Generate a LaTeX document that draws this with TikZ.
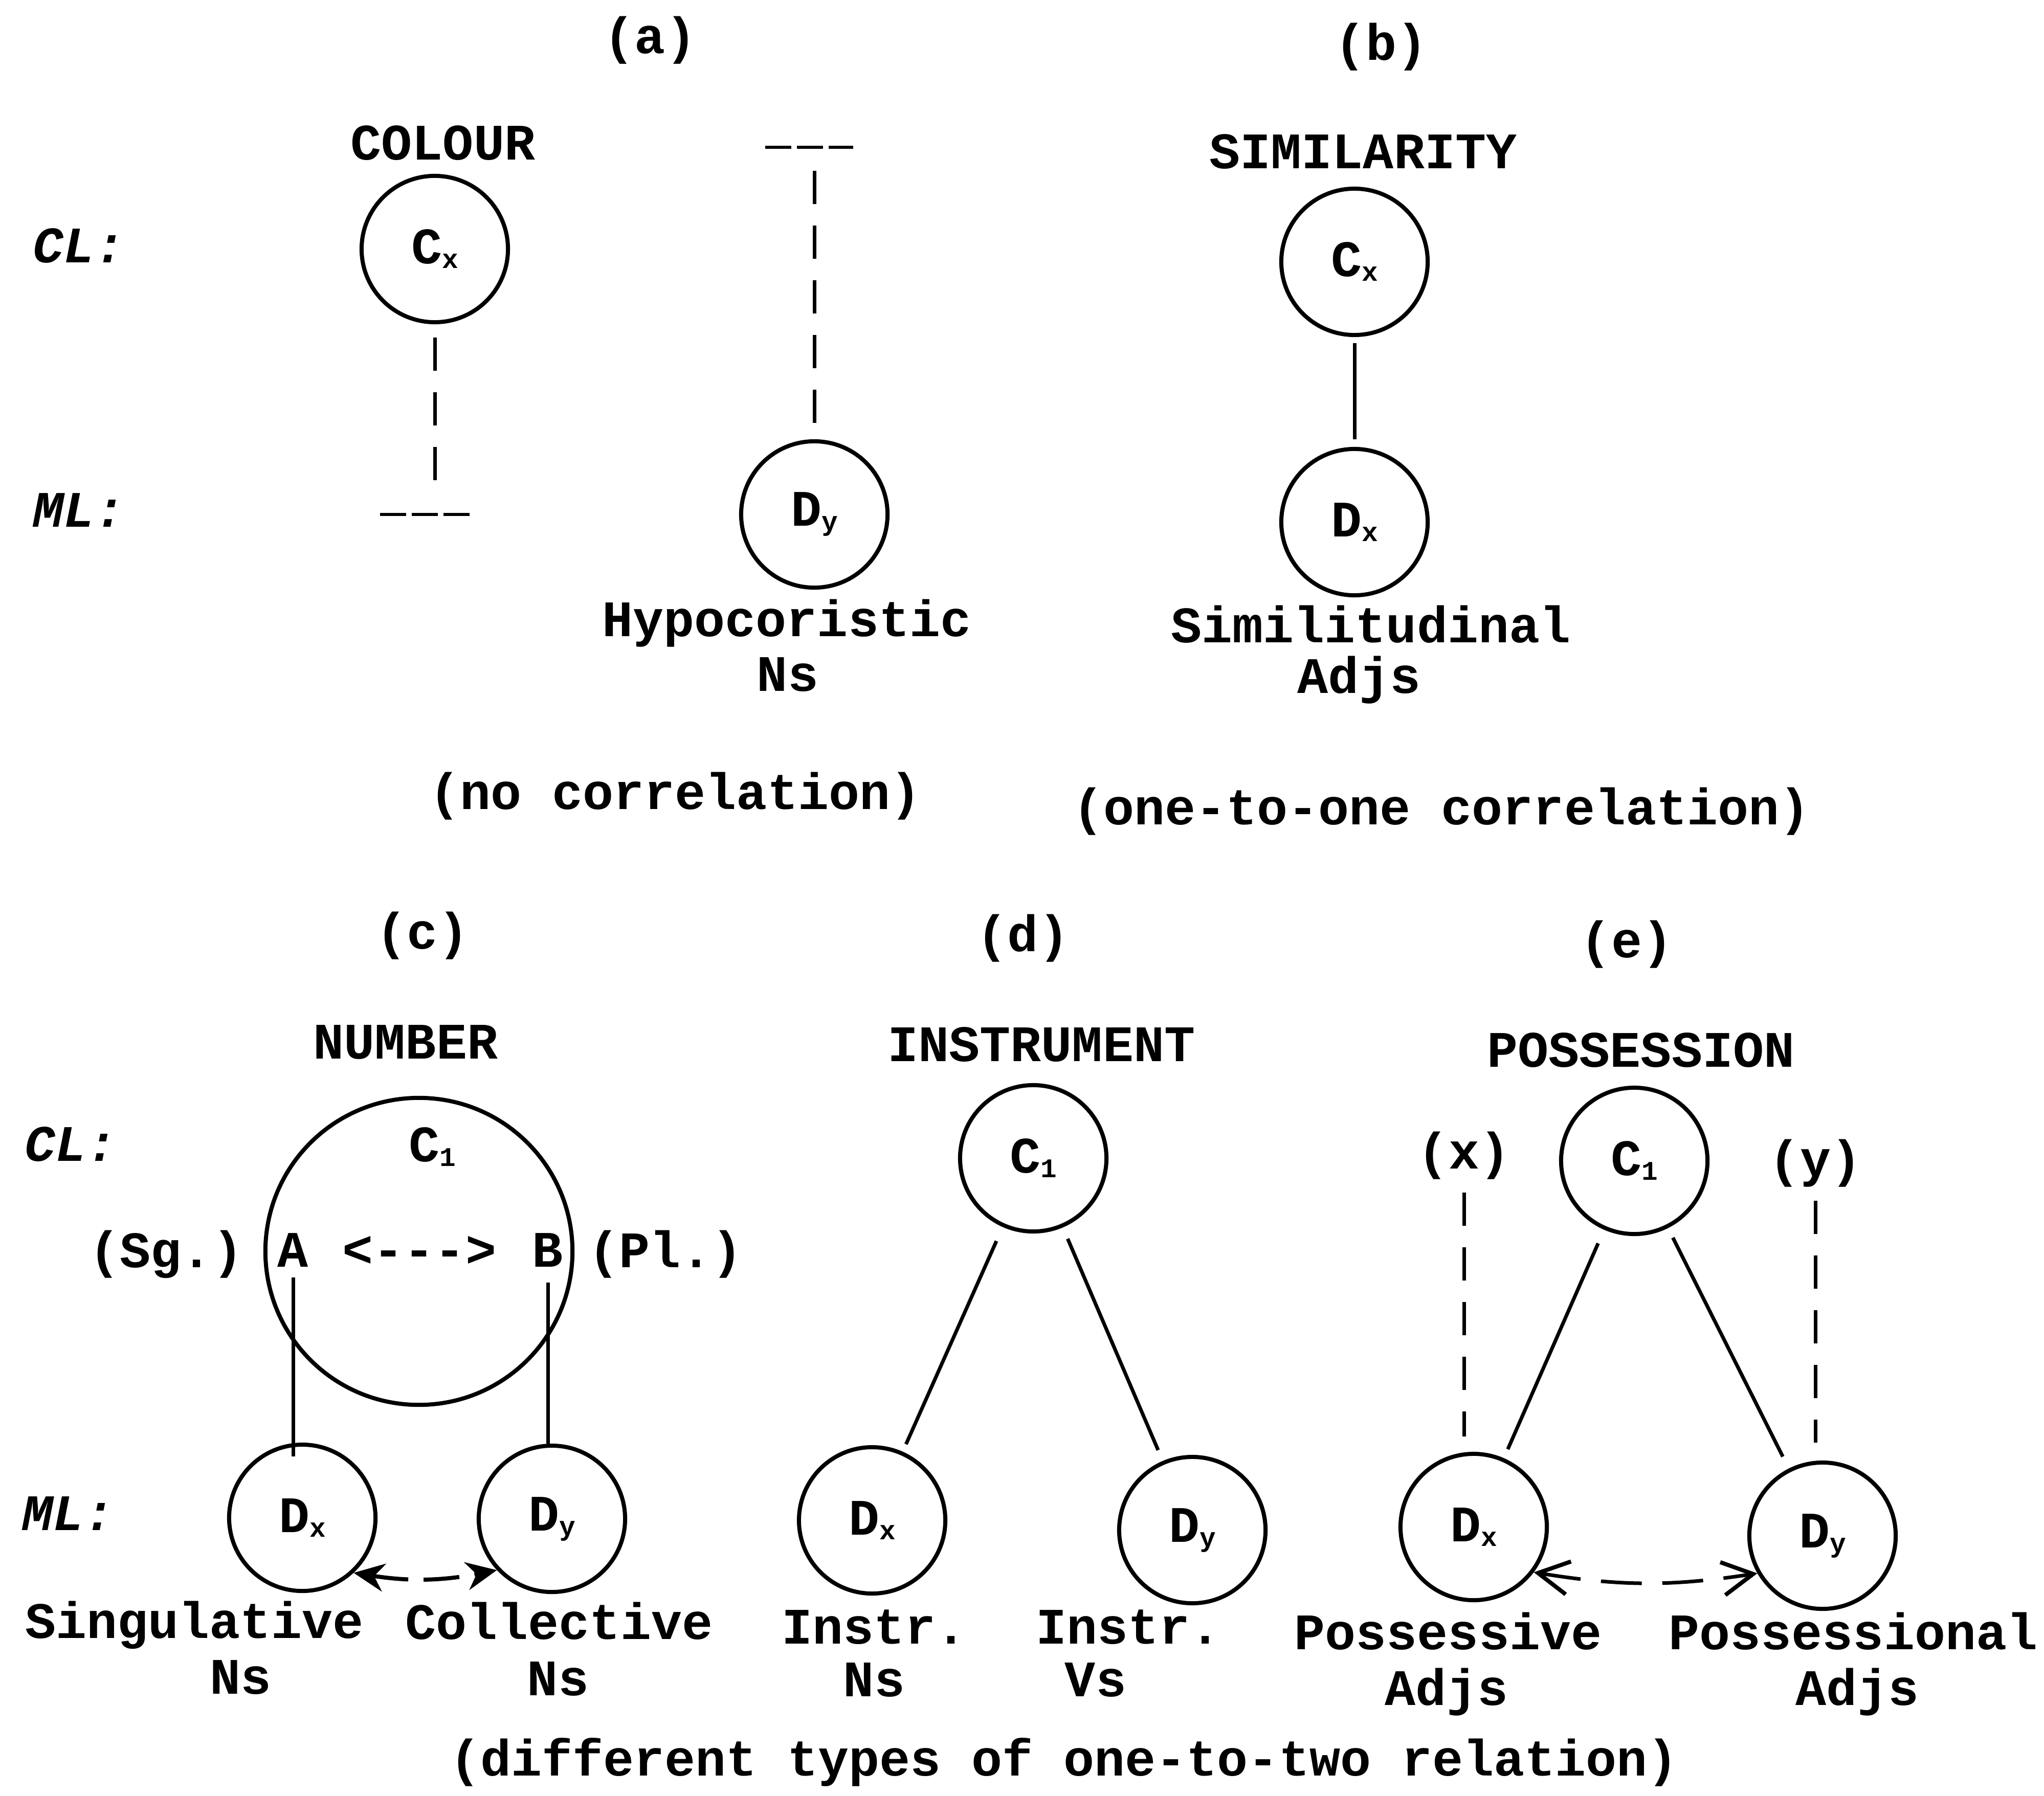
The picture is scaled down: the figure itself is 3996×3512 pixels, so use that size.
\documentclass[tikz,border=0pt]{standalone}
\usepackage{fontspec}
\setmainfont{Liberation Mono}
\usetikzlibrary{arrows.meta,calc}
\newcommand\sbs[1]{\raisebox{-0.09cm}{\fontsize{15pt}{15pt}\selectfont #1}}
\begin{document}
\begin{tikzpicture}[x=0.01cm,y=-0.01cm,
  every node/.style={font=\fontsize{28.45pt}{34pt}\selectfont\bfseries, inner sep=0pt},
  txt/.style={anchor=base},
  lvl/.style={anchor=base west, font=\fontsize{28.45pt}{34pt}\selectfont\bfseries\itshape},
  circ/.style={draw, circle, line width=0.08cm, minimum size=2.86cm},
  bigcirc/.style={draw, circle, line width=0.08cm, minimum size=6.0cm},
  link/.style={line width=0.07cm},
  dlink/.style={line width=0.07cm, dash pattern=on 0.65cm off 0.42cm},
  bar/.style={line width=0.06cm, dash pattern=on 0.51cm off 0.11cm},
  darrowc/.style={line width=0.08cm, dash pattern=on 0.7cm off 0.3cm,
    {Stealth[length=0.6cm,width=0.55cm]}-{Stealth[length=0.6cm,width=0.55cm]}},
  darrowe/.style={line width=0.07cm, dash pattern=on 0.8cm off 0.4cm,
    {Straight Barb[length=0.6cm,width=0.65cm,line width=0.08cm]}-{Straight Barb[length=0.6cm,width=0.65cm,line width=0.08cm]}},
]
\useasboundingbox (0,0) rectangle (3996,3512);

% ---------- (a) ----------
\node[txt] (lba) at (1271,105) {(a)};
\node[txt] (ttlcol) at (866,312) {COLOUR};
\node[lvl] (cltop) at (64,513) {CL:};
\node[lvl] (mltop) at (64,1030) {ML:};
\node[circ] (cxa) at (850,487) {C\sbs{x}};
\coordinate (barAl) at (743,1006);
\coordinate (barAr) at (918,1006);
\coordinate (barAm) at (850,1006);
\draw[bar] (barAl) -- (barAr);
\draw[dlink, shorten <=0.26cm, shorten >=0.25cm] (cxa.south) -- (barAm);

\coordinate (barBl) at (1496,288);
\coordinate (barBr) at (1668,288);
\coordinate (barBm) at (1592,288);
\draw[bar] (barBl) -- (barBr);
\node[circ] (dya) at (1592,1006) {D\sbs{y}};
\draw[dlink, shorten <=0.46cm, shorten >=0.21cm] (barBm) -- (dya.north);
\node[txt] (hypo) at (1538,1244) {Hypocoristic};
\node[txt] (hypons) at (1540,1351) {Ns};

% ---------- (b) ----------
\node[txt] (lbb) at (2700,118) {(b)};
\node[txt] (ttlsim) at (2665,330) {SIMILARITY};
\node[circ] (cxb) at (2648,512) {C\sbs{x}};
\node[circ] (dxb) at (2648,1021) {D\sbs{x}};
\draw[link, shorten <=0.12cm, shorten >=0.15cm] (cxb) -- (dxb);
\node[txt] (simil) at (2680,1256) {Similitudinal};
\node[txt] (simadj) at (2657,1355) {Adjs};

\node[txt] (capa) at (1320,1582) {(no correlation)};
\node[txt] (capb) at (2818,1612) {(one-to-one correlation)};

% ---------- (c) ----------
\node[txt] (lbc) at (826,1855) {(c)};
\node[txt] (ttlnum) at (793,2070) {NUMBER};
\node[lvl] (clbot) at (48,2270) {CL:};
\node[lvl] (mlbot) at (43,2992) {ML:};
\node[bigcirc] (bigc) at (819,2447) {};
\node[txt] (c1c) at (845,2271) {C\sbs{1}};
\node[txt] (sg) at (325,2478) {(Sg.)};
\node[txt] (nA) at (573,2477) {A};
\node[txt] (dbl) at (820,2477) {<-{}-{}->};
\node[txt] (nB) at (1071,2477) {B};
\node[txt] (pl) at (1301,2478) {(Pl.)};
\node[circ] (dxc) at (591,2968) {D\sbs{x}};
\node[circ] (dyc) at (1079,2970) {D\sbs{y}};
\draw[link, shorten <=0.2cm, shorten >=-0.27cm] (nA.south) -- (nA.south |- dxc.north);
\draw[link, shorten <=0.3cm] (nB.south) -- (nB.south |- dyc.north);
\draw[darrowc] (dxc.-47) to[bend right=10] (dyc.223);
\node[txt] (sing) at (380,3203) {Singulative};
\node[txt] (singns) at (471,3312) {Ns};
\node[txt] (coll) at (1093,3205) {Collective};
\node[txt] (collns) at (1091,3315) {Ns};

% ---------- (d) ----------
\node[txt] (lbd) at (2000,1860) {(d)};
\node[txt] (ttlins) at (2036,2075) {INSTRUMENT};
\node[circ] (c1d) at (2020,2265) {C\sbs{1}};
\node[circ] (dxd) at (1705,2973) {D\sbs{x}};
\node[circ] (dyd) at (2331,2992) {D\sbs{y}};
\draw[link, shorten <=0.3cm, shorten >=0.16cm] (c1d) -- (dxd);
\draw[link, shorten <=0.24cm, shorten >=0.23cm] (c1d) -- (dyd);
\node[txt] (insn) at (1709,3214) {Instr.};
\node[txt] (insnns) at (1709,3317) {Ns};
\node[txt] (insv) at (2206,3214) {Instr.};
\node[txt] (insvvs) at (2142,3317) {Vs};

% ---------- (e) ----------
\node[txt] (lbe) at (3180,1872) {(e)};
\node[txt] (ttlpos) at (3208,2086) {POSSESSION};
\node[circ] (c1e) at (3195,2270) {C\sbs{1}};
\node[circ] (dxe) at (2881,2986) {D\sbs{x}};
\node[circ] (dye) at (3563,3003) {D\sbs{y}};
\node[txt] (xl) at (2862,2285) {(x)};
\node[txt] (yl) at (3549,2300) {(y)};
\draw[link, shorten <=0.29cm, shorten >=0.19cm] (c1e) -- (dxe);
\draw[link, shorten <=0.21cm, shorten >=0.26cm] (c1e) -- (dye);
\draw[dlink, shorten <=0.25cm, shorten >=0.3cm] (xl.south) -- (xl.south |- dxe.north);
\draw[dlink, shorten <=0.26cm, shorten >=0.35cm] (yl.south) -- (yl.south |- dye.north);
\draw[darrowe] (dxe.-37) to[bend right=9] (dye.210);
\node[txt] (poss) at (2831,3225) {Possessive};
\node[txt] (possadj) at (2828,3334) {Adjs};
\node[txt] (possl) at (3623,3225) {Possessional};
\node[txt] (possladj) at (3631,3334) {Adjs};

\node[txt] (capc) at (2080,3472) {(different types of one-to-two relation)};
\end{tikzpicture}
\end{document}
